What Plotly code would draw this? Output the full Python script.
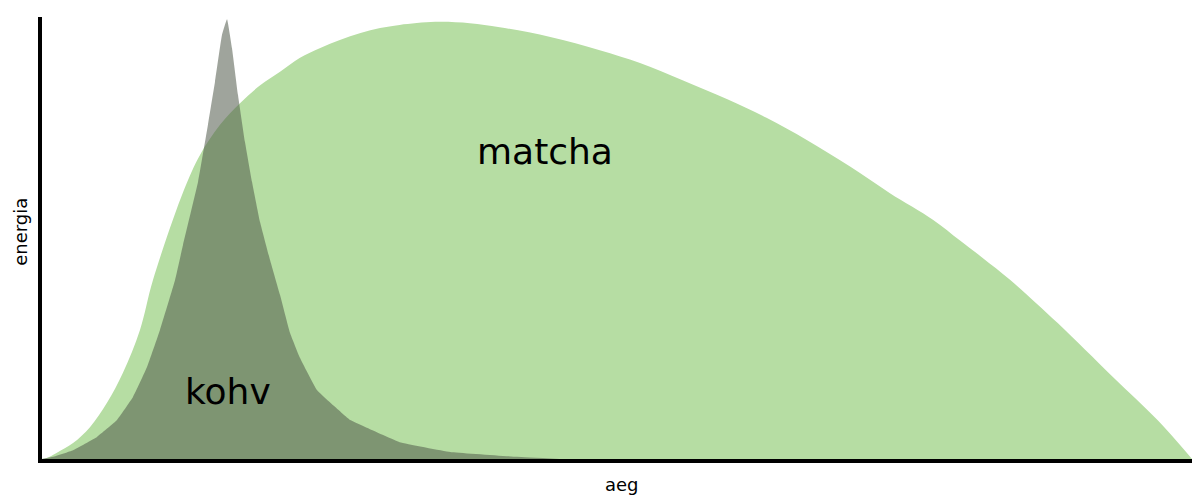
import plotly.graph_objects as go

FONT = 'DejaVu Sans'

# matcha: long slow curve (aeg, energia)
matcha_x = [0, 0.43, 1.30, 2.70, 4.17, 5.65, 7.04, 8.52, 9.65, 12.35, 13.74,
            15.48, 17.22, 19.0, 20.7, 22.4, 24.2, 25.9, 27.7, 29.4, 31.1, 34.2,
            37.2, 39.8, 44.2, 48.5, 52.0, 55.7, 59.6, 63.0, 66.5, 70.3, 73.7,
            77.5, 79.8, 81.8, 84.2, 88.3, 93.1, 97.0, 100]
matcha_y = [0, 0.2, 1.4, 3.6, 7.2, 12.7, 19.5, 29.2, 40.5, 60.9, 68.8,
            75.6, 80.5, 84.6, 87.6, 90.7, 93.0, 94.8, 96.4, 97.5, 98.2, 98.9,
            98.6, 97.7, 95.5, 92.5, 89.6, 85.7, 81.4, 77.2, 72.2, 66.1, 60.2,
            54.1, 49.5, 45.5, 40.5, 30.8, 18.6, 8.8, 0]

# kohv: sharp early peak, fast drop
kohv_x = [0, 0.96, 2.70, 4.78, 6.52, 7.91, 9.13, 10.26, 11.57, 12.26, 13.57,
          14.43, 15.04, 15.65, 16.09, 16.52, 17.04, 17.65, 18.26, 18.96, 19.83,
          20.7, 21.57, 22.43, 23.91, 25.3, 26.8, 28.3, 31.1, 35.5, 41.3, 45.0]
kohv_y = [0, 0.5, 2.0, 5.0, 8.8, 14.0, 20.8, 29.2, 40.5, 48.4, 62.7,
          75.6, 85.3, 95.9, 99.5, 93.0, 82.4, 71.7, 62.7, 53.6, 45.0,
          37.1, 28.5, 22.9, 15.6, 12.2, 8.8, 7.0, 3.8, 1.6, 0.5, 0]

fig = go.Figure()
fig.add_trace(go.Scatter(
    x=matcha_x, y=matcha_y, mode='lines', fill='tozeroy',
    line=dict(width=0, shape='spline', smoothing=1),
    fillcolor='rgb(182,221,163)', name='matcha',
))
fig.add_trace(go.Scatter(
    x=kohv_x, y=kohv_y, mode='lines', fill='tozeroy',
    line=dict(width=0, shape='spline', smoothing=0.3),
    fillcolor='rgba(80,90,75,0.55)', name='kohv',
))

fig.add_annotation(x=43.7, y=69.5, text='matcha', showarrow=False,
                   font=dict(size=36, color='black', family=FONT))
fig.add_annotation(x=16.2, y=15.2, text='kohv', showarrow=False,
                   font=dict(size=36, color='black', family=FONT))

# axis titles placed by hand so the margins stay fixed
fig.add_annotation(xref='paper', yref='paper', x=0.504, y=-0.057,
                   yanchor='middle', text='aeg', showarrow=False,
                   font=dict(size=18, color='black', family=FONT))
fig.add_annotation(xref='paper', yref='paper', x=-0.0183, y=0.514,
                   xanchor='center', yanchor='middle', textangle=-90,
                   text='energia', showarrow=False,
                   font=dict(size=18, color='black', family=FONT))

axis = dict(showgrid=False, zeroline=False, showticklabels=False, ticks='',
            showline=True, linecolor='black', linewidth=4, fixedrange=True,
            automargin=False)
fig.update_xaxes(range=[0, 100], **axis)
fig.update_yaxes(range=[0, 100], **axis)

# page body adds an 8px offset, so the figure is sized to fit what is seen
fig.update_layout(
    width=1192, height=496,
    margin=dict(l=34, r=8, t=9, b=45),
    plot_bgcolor='white', paper_bgcolor='white',
    showlegend=False,
    font=dict(family=FONT),
)

fig.write_html('out.html')
